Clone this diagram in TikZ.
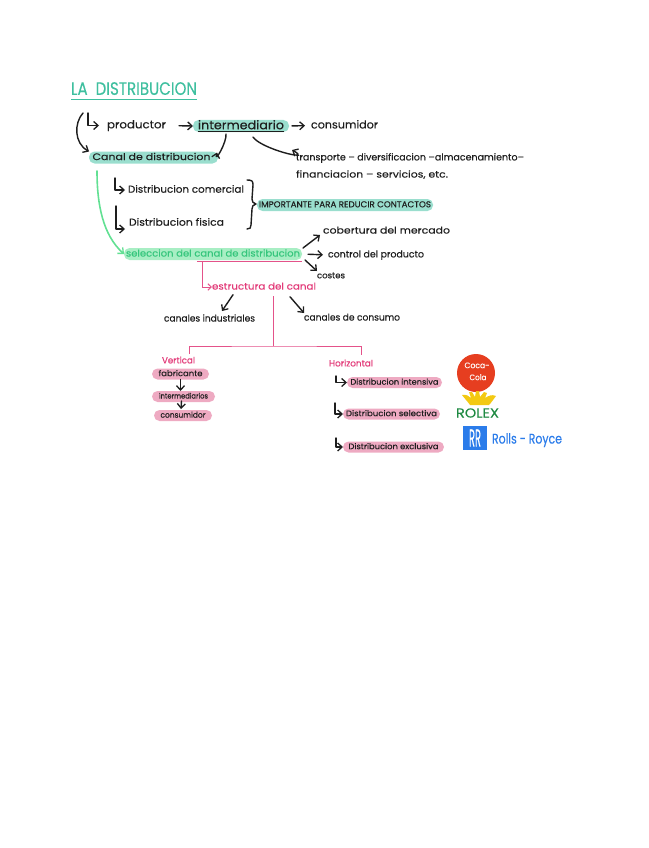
\documentclass[tikz,border=0pt]{standalone}
\usepackage{fontspec}
\usepackage{graphicx}
\setmainfont{Poppins}[FakeBold=0.25]
\usetikzlibrary{arrows.meta,calc}
\definecolor{ink}{HTML}{1E1E1E}
\definecolor{tealT}{HTML}{3FBF9F}
\definecolor{tealP}{HTML}{9ADECE}
\definecolor{greenT}{HTML}{35C67C}
\definecolor{greenP}{HTML}{A8EEC4}
\definecolor{greenL}{HTML}{62E093}
\definecolor{pinkT}{HTML}{E23A78}
\definecolor{pinkP}{HTML}{EEAAC2}
\definecolor{pinkL}{HTML}{E4528A}
\definecolor{cokeR}{HTML}{E63E20}
\definecolor{crownY}{HTML}{F3C912}
\definecolor{rolexG}{HTML}{1F8A42}
\definecolor{rollsB}{HTML}{2B7CEA}
\newcommand{\W}[3]{\resizebox{#1pt}{\height}{\fontsize{#2}{#2}\selectfont\rule[-0.23em]{0pt}{1em}#3}}
\tikzset{
  txt/.style={inner sep=0pt,outer sep=0pt,anchor=west,text=ink},
  pill/.style={inner sep=0pt,outer sep=0pt,rounded corners=5.5pt,text=ink},
  barb/.style={-{Straight Barb[length=4.4pt,width=8pt,line width=1.3pt]}},
  arr/.style={draw=ink,line width=1.4pt,line cap=round,line join=round,barb},
  pline/.style={draw=pinkL,line width=0.9pt},
}
\begin{document}
\begin{tikzpicture}[x=1pt,y=-1pt]
\useasboundingbox (0,0) rectangle (648,848);
% title
\node[txt,text=tealT] (title) at (71,90) {\W{126}{18}{LA\ \ DISTRIBUCION}};
\draw[tealT,line width=1.2pt] (title.west |- 0,99.5) -- (title.east |- 0,99.5);
% pills
\node[pill,fill=tealP,minimum width=96pt,minimum height=12pt] (interm) at (241,126) {\W{86}{12}{intermediario}};
\draw[ink,line width=1.1pt] (198,131.5) -- (284,131.5);
\node[pill,fill=tealP,minimum width=129pt,minimum height=12pt] (canal) at (153.5,157.5) {\hspace*{-4pt}\W{118}{9.5}{Canal de distribucion}};
\node[pill,fill=tealP,minimum width=176pt,minimum height=12pt] (imp) at (345,205) {\W{172}{8.5}{IMPORTANTE PARA REDUCIR CONTACTOS}};
\node[pill,fill=greenP,minimum width=178pt,minimum height=12pt,text=greenT] (sel) at (213,254) {\W{174}{9.5}{seleccion del canal de distribucion}};
\draw[pline] (197,261) -- (302,261);
% first-level text
\node[txt] (prod) at (107,125.5) {\W{59}{11}{productor}};
\node[txt] (cons) at (311,125.5) {\W{67}{11}{consumidor}};
\node[txt] (tr1) at (296,158) {\W{228}{9.5}{transporte – diversificacion –almacenamiento–}};
\node[txt] (tr2) at (296,175) {\W{152}{9.5}{financiacion – servicios, etc.}};
\node[txt] (dcom) at (128,190) {\W{116}{10}{Distribucion comercial}};
\node[txt] (dfis) at (129,223) {\W{95}{10}{Distribucion fisica}};
\node[txt] (cob) at (323,231) {\W{127}{9.5}{cobertura del mercado}};
\node[txt] (ctrl) at (328,255) {\W{96}{9.5}{control del producto}};
\node[txt] (cost) at (317,276) {\W{28}{8.5}{costes}};
\node[txt,text=pinkT] (est) at (212,287) {\W{104}{9.5}{estructura del canal}};
\node[txt] (cind) at (164,319) {\W{91}{9.5}{canales industriales}};
\node[txt] (ccon) at (304,318) {\W{96}{9.5}{canales de consumo}};
\node[txt,text=pinkT] (vert) at (162,361) {\W{33}{9}{Vertical}};
\node[txt,text=pinkT] (horz) at (329,364) {\W{44}{9}{Horizontal}};
% vertical pills
\node[pill,fill=pinkP,minimum width=57pt,minimum height=11pt] (fab) at (180.5,374) {\W{44}{8}{fabricante}};
\node[pill,fill=pinkP,minimum width=63pt,minimum height=11pt] (inter) at (183.5,396.5) {\W{49}{7.5}{intermediarios}};
\node[pill,fill=pinkP,minimum width=58pt,minimum height=11pt] (consu) at (183,415.5) {\W{45}{8}{consumidor}};
% horizontal pills
\node[pill,fill=pinkP,minimum width=95pt,minimum height=11pt] (dint) at (394.5,382.5) {\W{88}{8}{Distribucion intensiva}};
\node[pill,fill=pinkP,minimum width=97pt,minimum height=11pt] (dsel) at (391.5,414) {\W{91}{8}{Distribucion selectiva}};
\node[pill,fill=pinkP,minimum width=101pt,minimum height=11pt] (dexc) at (393.5,447) {\W{90}{8}{Distribucion exclusiva}};
% free ends
\coordinate (bigS) at (83,113);
\coordinate (lA) at (88,113);
\coordinate (lB) at (115,178);
\coordinate (lC) at (116,206);
\coordinate (gS) at (97,171);
\coordinate (pS) at (202,261);
\coordinate (pT) at (273,296);
\coordinate (pJ) at (273,346);
\coordinate (lV) at (189,354);
\coordinate (lH) at (361,355);
\coordinate (lD) at (336,376);
\coordinate (lE) at (335,403);
\coordinate (lF) at (336,438);
% connectors
\draw[arr] (bigS) .. controls (74,123) and (74,143) .. (canal.north west);
\draw[arr] (lA) |- ([xshift=-8pt]prod.west);
\draw[arr,shorten <=13pt,shorten >=0pt] (prod.east) -- (interm.west);
\draw[arr,shorten <=3pt,shorten >=6pt] (interm.east) -- (cons.west);
\draw[arr] ($(interm.south)+(-15,2)$) .. controls +(1,8) and +(-3,12) .. ($(canal.north east)+(-1,1)$);
\draw[arr] ($(interm.south)+(12,5)$) .. controls +(8,12) and +(22,12) .. ($(tr1.west)+(-4,-8)$);
\draw[arr] (lB) |- ([xshift=-3pt]dcom.west);
\draw[arr] (lC) |- ([xshift=-4pt,yshift=-6pt]dfis.west);
\draw[ink,line width=1.4pt,line cap=round,line join=round] (247,180) .. controls (252,180) and (253,181) .. (253,185) -- (252,199) .. controls (252,202) and (253,203) .. (256,204) .. controls (253,205) and (252,206) .. (252,209) -- (251,225) .. controls (251,228) and (250,229) .. (247,229);
\draw[greenL,line width=1.6pt,line cap=round,barb] (gS) .. controls (97,205) and (103,235) .. (sel.west);
\draw[arr] ($(sel.north east)+(1,0)$) -- ($(cob.west)+(-3,4)$);
\draw[arr,shorten <=6pt,shorten >=5pt] (sel.east) -- (ctrl.west);
\draw[arr] ($(sel.south east)+(3,0)$) -- ($(cost.west)+(0,-5)$);
\draw[pline,-{Straight Barb[length=3.4pt,width=6.5pt,line width=1pt]}] (pS) |- (est.west);
\draw[arr] ($(est.south)+(-31,3)$) -- ($(cind.west)+(58,-8)$);
\draw[arr] ($(est.south)+(26,5)$) -- ($(ccon.west)+(0,-5)$);
\draw[pline] (pT) -- (pJ);
\draw[pline] (lV) |- (pJ) -| (lH);
\draw[arr] (fab.south) -- (inter.north -| fab.south);
\draw[arr] (inter.south -| fab.south) ++(1,-1) -- ([xshift=-2pt,yshift=1pt]consu.north);
\draw[arr] (lD) |- (dint.west);
\draw[arr] (lE) |- (dsel.west);
\draw[arr] (lF) |- (dexc.west);
% logos
\node[circle,fill=cokeR,minimum size=38pt,inner sep=0pt] (coke) at (476,373) {};
\node[inner sep=0pt,text=white] (cokeA) at (477,366) {\W{25}{8}{Coca-}};
\node[inner sep=0pt,text=white] (cokeB) at (478,378) {\W{17}{8}{Cola}};
\fill[crownY,line join=round] (462,395) .. controls (466,394) and (469,396) .. (471,398) -- (469,392) -- (472,392) -- (475,397) -- (476,391) -- (479,391) -- (480,397) -- (484,392) -- (487,393) -- (485,398) .. controls (488,396) and (492,394) .. (496,396) .. controls (493,400) and (491,403) .. (489,405) -- (470,405) .. controls (468,402) and (465,399) .. (462,395) -- cycle;
\node[inner sep=0pt,text=rolexG] (rolex) at (477.5,414) {\W{43}{13}{ROLEX}};
\node[fill=rollsB,minimum size=24pt,inner sep=0pt,text=white] (rrbox) at (475,438) {\resizebox{12pt}{17pt}{RR}};
\node[txt,text=rollsB] (rolls) at (492,440) {\W{70}{14}{Rolls - Royce}};
\end{tikzpicture}
\end{document}
